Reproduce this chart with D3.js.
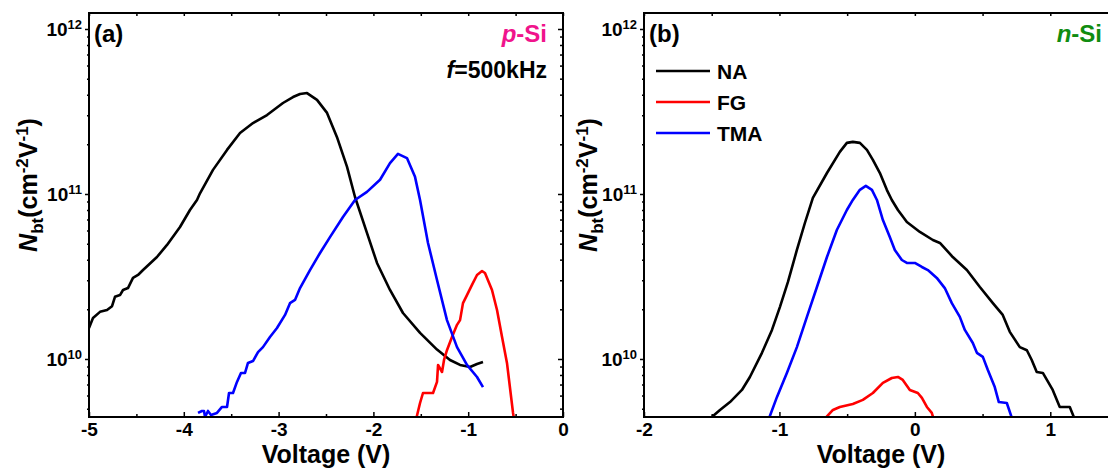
<!DOCTYPE html>
<html>
<head>
<meta charset="utf-8">
<script src="https://cdn.jsdelivr.net/npm/d3@7"></script>
<style>
    body { margin: 0; background: #fff; }
    svg text { font-family: "Liberation Sans", Arial, sans-serif; font-weight: bold; fill: #000; }
</style>
</head>
<body>
<div id="chart"></div>
<script>

// series names / colours (legend in panel b)
const seriesNames = ["NA", "FG", "TMA"];
const seriesColors = ["#000000", "#ff0000", "#0000ff"];

// y axis (log) major ticks and their exponent labels
const yMajorTicks = [1e10, 1e11, 1e12];
const yTickExps = ["10", "11", "12"];

// (a) p-Si, [voltage, Nbt]
const pNA = [[-5.0,1.54e10],[-4.958,1.77e10],[-4.884,1.93e10],[-4.81,1.98e10],[-4.757,2.09e10],[-4.726,2.38e10],
    [-4.673,2.44e10],[-4.641,2.62e10],[-4.589,2.69e10],[-4.536,3.10e10],[-4.483,3.23e10],[-4.43,3.46e10],
    [-4.283,4.15e10],[-4.177,4.91e10],[-4.04,6.31e10],[-3.935,8.0e10],[-3.861,9.2e10],[-3.829,1.01e11],
    [-3.692,1.40e11],[-3.544,1.85e11],[-3.407,2.34e11],[-3.27,2.69e11],[-3.122,3.01e11],[-2.954,3.56e11],
    [-2.848,3.87e11],[-2.774,4.04e11],[-2.7,4.09e11],[-2.595,3.72e11],[-2.489,3.10e11],[-2.384,2.21e11],
    [-2.278,1.46e11],[-2.194,9.59e10],[-2.068,5.81e10],[-1.962,3.82e10],[-1.825,2.62e10],[-1.688,1.90e10],
    [-1.508,1.44e10],[-1.329,1.14e10],[-1.192,9.86e9],[-1.086,9.2e9],[-0.981,8.95e9],[-0.907,9.33e9],[-0.844,9.59e9]];
const pFG = [[-1.55,4.3e9],[-1.508,5.41e9],[-1.477,6.22e9],[-1.371,6.22e9],[-1.329,7.26e9],[-1.318,9.2e9],
    [-1.276,8.34e9],[-1.255,9.86e9],[-1.224,1.13e10],[-1.171,1.36e10],[-1.118,1.61e10],[-1.086,1.72e10],
    [-1.055,2.18e10],[-1.013,2.44e10],[-0.96,2.81e10],[-0.907,3.23e10],[-0.854,3.41e10],[-0.823,3.32e10],
    [-0.749,2.62e10],[-0.696,1.98e10],[-0.643,1.36e10],[-0.591,9.46e9],[-0.527,4.71e9],[-0.516,4.3e9]];
const pTMA = [[-3.85,4.71e9],[-3.808,4.84e9],[-3.787,4.84e9],[-3.776,4.45e9],[-3.745,4.84e9],[-3.713,4.58e9],
    [-3.65,4.71e9],[-3.597,5.12e9],[-3.544,5.12e9],[-3.523,6.22e9],[-3.481,6.22e9],[-3.439,7.26e9],
    [-3.397,8.23e9],[-3.354,8.23e9],[-3.323,9.46e9],[-3.27,9.72e9],[-3.217,1.10e10],[-3.165,1.18e10],
    [-3.091,1.36e10],[-3.017,1.54e10],[-2.932,1.85e10],[-2.88,2.18e10],[-2.827,2.28e10],[-2.774,2.69e10],
    [-2.669,3.46e10],[-2.563,4.39e10],[-2.458,5.48e10],[-2.321,7.26e10],[-2.194,9.2e10],[-2.068,1.03e11],
    [-1.93,1.22e11],[-1.825,1.54e11],[-1.741,1.75e11],[-1.646,1.65e11],[-1.561,1.27e11],[-1.508,9.2e10],
    [-1.424,5.05e10],[-1.329,3.01e10],[-1.224,1.72e10],[-1.118,1.18e10],[-1.013,9.2e9],[-0.907,7.78e9],[-0.844,6.76e9]];

// (b) n-Si, [voltage, Nbt]
const nNA = [[-1.52,4.3e9],[-1.439,4.91e9],[-1.365,5.48e9],[-1.277,6.49e9],[-1.218,7.78e9],[-1.129,1.09e10],
    [-1.055,1.50e10],[-0.996,2.07e10],[-0.937,2.93e10],[-0.871,4.58e10],[-0.812,6.67e10],[-0.753,9.46e10],
    [-0.649,1.34e11],[-0.554,1.80e11],[-0.502,2.04e11],[-0.458,2.07e11],[-0.406,2.04e11],[-0.354,1.85e11],
    [-0.31,1.61e11],[-0.258,1.34e11],[-0.207,1.06e11],[-0.17,9.2e10],[-0.125,8.0e10],[-0.059,6.76e10],
    [0.037,5.89e10],[0.133,5.26e10],[0.185,5.05e10],[0.28,4.15e10],[0.384,3.46e10],[0.48,2.73e10],
    [0.576,2.18e10],[0.649,1.85e10],[0.701,1.46e10],[0.775,1.18e10],[0.827,1.13e10],[0.863,9.86e9],
    [0.9,8.34e9],[0.945,8.23e9],[1.018,6.49e9],[1.07,5.12e9],[1.144,5.12e9],[1.181,4.3e9]];
const nFG = [[-0.67,4.3e9],[-0.605,4.91e9],[-0.554,5.12e9],[-0.458,5.34e9],[-0.384,5.65e9],[-0.31,6.22e9],
    [-0.236,7.16e9],[-0.17,7.67e9],[-0.125,7.78e9],[-0.089,7.46e9],[-0.037,6.49e9],[0.022,6.22e9],
    [0.052,5.81e9],[0.089,5.12e9],[0.125,4.71e9],[0.14,4.3e9]];
const nTMA = [[-1.08,4.3e9],[-1.018,5.89e9],[-0.945,8.23e9],[-0.871,1.18e10],[-0.797,1.80e10],[-0.723,2.73e10],
    [-0.649,4.15e10],[-0.576,6.05e10],[-0.502,8.0e10],[-0.458,9.2e10],[-0.406,1.06e11],[-0.362,1.12e11],
    [-0.317,1.06e11],[-0.28,9.2e10],[-0.236,6.95e10],[-0.185,5.48e10],[-0.148,4.58e10],[-0.096,3.98e10],
    [-0.059,3.82e10],[0.0,3.82e10],[0.052,3.61e10],[0.096,3.46e10],[0.162,3.10e10],[0.221,2.69e10],
    [0.273,2.18e10],[0.332,1.80e10],[0.369,1.50e10],[0.428,1.25e10],[0.458,1.09e10],[0.502,1.03e10],
    [0.539,8.57e9],[0.59,6.76e9],[0.62,5.48e9],[0.679,5.41e9],[0.72,4.3e9]];

const W = 1108, H = 470;
const plotTop = 13, plotH = 404, plotW = 474;

const svg = d3.select("#chart").append("svg")
    .attr("width", W)
    .attr("height", H);

const panels = [
    {id: "a", left: 89, xDomain: [-5, 0], xMajor: [-5, -4, -3, -2, -1, 0], titleOff: 52,
     series: [pNA, pFG, pTMA], rightAxis: true},
    {id: "b", left: 644, xDomain: [-2, 1.5], xMajor: [-2, -1, 0, 1], titleOff: 47,
     series: [nNA, nFG, nTMA], rightAxis: false}
];

function drawPanel(p) {
    const g = svg.append("g").attr("transform", `translate(${p.left},${plotTop})`);

    const x = d3.scaleLinear().domain(p.xDomain).range([0, plotW]);
    const y = d3.scaleLog().domain([4.45e9, 1.25e12]).range([plotH, 0]);

    const xMinor = d3.range(p.xDomain[0], p.xDomain[1] + 0.001, 0.5).filter(v => !p.xMajor.includes(v));
    const xAll = d3.range(p.xDomain[0], p.xDomain[1] + 0.001, 0.5);
    const yMinor = [];
    [9, 10, 11].forEach(e => d3.range(2, 10).forEach(k => {
        const v = k * Math.pow(10, e);
        if (v >= 4.45e9 && v <= 1.25e12) yMinor.push(v);
    }));

    g.append("clipPath").attr("id", "clip-" + p.id)
        .append("rect").attr("width", plotW).attr("height", plotH);

    const line = d3.line().x(d => x(d[0])).y(d => y(d[1]));

    g.append("g").attr("clip-path", `url(#clip-${p.id})`)
        .selectAll("path")
        .data(p.series)
        .join("path")
        .attr("fill", "none")
        .attr("stroke", (d, i) => seriesColors[i])
        .attr("stroke-width", 2.6)
        .attr("stroke-linejoin", "round")
        .attr("d", line);

    // bottom axis (ticks inward)
    const xAxis = g.append("g").attr("class", "axis x-axis")
        .attr("transform", `translate(0,${plotH})`)
        .call(d3.axisBottom(x).tickValues(p.xMajor).tickSize(-5).tickSizeOuter(0).tickPadding(6).tickFormat(d => String(d)));
    xAxis.selectAll("text").attr("font-size", "19px");
    g.append("g").attr("transform", `translate(0,${plotH})`)
        .call(d3.axisBottom(x).tickValues(xMinor).tickSize(-3).tickSizeOuter(0).tickFormat(""));

    // top axis
    g.append("g").call(d3.axisBottom(x).tickValues(xAll).tickSize(3).tickSizeOuter(0).tickFormat(""));

    // left axis (ticks outward)
    const yAxis = g.append("g").attr("class", "axis y-axis")
        .call(d3.axisLeft(y).tickValues(yMajorTicks).tickSize(4).tickSizeOuter(0).tickPadding(3));
    yAxis.selectAll(".tick text").each(function(d, i) {
        const t = d3.select(this).text(null).attr("font-size", "19px").attr("dy", "0.36em");
        t.append("tspan").text("10");
        t.append("tspan").attr("dy", -7).attr("font-size", "13px").text(yTickExps[i]);
    });
    g.append("g").call(d3.axisLeft(y).tickValues(yMinor).tickSize(2).tickSizeOuter(0).tickFormat(""));

    if (p.rightAxis) {
        g.append("g").attr("transform", `translate(${plotW},0)`)
            .call(d3.axisLeft(y).tickValues(yMajorTicks).tickSize(5).tickSizeOuter(0).tickFormat(""));
        g.append("g").attr("transform", `translate(${plotW},0)`)
            .call(d3.axisLeft(y).tickValues(yMinor).tickSize(3).tickSizeOuter(0).tickFormat(""));
    }

    g.selectAll(".domain").remove();
    g.selectAll(".tick line").attr("stroke", "#000").attr("stroke-width", 1.5);

    g.append("rect")
        .attr("width", plotW).attr("height", plotH)
        .attr("fill", "none").attr("stroke", "#000").attr("stroke-width", 2);

    // axis titles
    g.append("text")
        .attr("x", plotW / 2).attr("y", plotH + 46)
        .attr("text-anchor", "middle")
        .attr("font-size", "25px")
        .text("Voltage (V)");

    const yt = g.append("text")
        .attr("transform", `translate(${-p.titleOff},${172}) rotate(-90)`)
        .attr("text-anchor", "middle")
        .attr("font-size", "25px");
    yt.append("tspan").attr("font-style", "italic").text("N");
    yt.append("tspan").attr("dy", 6).attr("font-size", "17px").text("bt");
    yt.append("tspan").attr("dy", -6).text("(cm");
    yt.append("tspan").attr("dy", -9).attr("font-size", "17px").text("-2");
    yt.append("tspan").attr("dy", 9).text("V");
    yt.append("tspan").attr("dy", -9).attr("font-size", "17px").text("-1");
    yt.append("tspan").attr("dy", 9).text(")");

    g.append("text")
        .attr("x", 5).attr("y", 29)
        .attr("font-size", "24px")
        .text("(" + p.id + ")");

    return {g, x, y};
}

const pa = drawPanel(panels[0]);
const pb = drawPanel(panels[1]);

// panel (a) annotations
const tA = pa.g.append("text")
    .attr("x", 458).attr("y", 29)
    .attr("text-anchor", "end")
    .attr("font-size", "24px")
    .style("fill", "#f0148c");
tA.append("tspan").attr("font-style", "italic").text("p");
tA.append("tspan").text("-Si");

const tF = pa.g.append("text")
    .attr("x", 458).attr("y", 65)
    .attr("text-anchor", "end")
    .attr("font-size", "23px");
tF.append("tspan").attr("font-style", "italic").text("f");
tF.append("tspan").text("=500kHz");

// panel (b) annotations
const tB = pb.g.append("text")
    .attr("x", 458).attr("y", 29)
    .attr("text-anchor", "end")
    .attr("font-size", "24px")
    .style("fill", "#108c10");
tB.append("tspan").attr("font-style", "italic").text("n");
tB.append("tspan").text("-Si");

// legend
const legend = pb.g.append("g").attr("transform", "translate(12,58)");
seriesNames.forEach((name, i) => {
    const row = legend.append("g").attr("transform", `translate(0,${i * 31})`);
    row.append("line")
        .attr("x1", 0).attr("x2", 54)
        .attr("stroke", seriesColors[i]).attr("stroke-width", 2.6);
    row.append("text")
        .attr("x", 61).attr("y", 8)
        .attr("font-size", "21px")
        .text(name);
});

</script>
</body>
</html>
